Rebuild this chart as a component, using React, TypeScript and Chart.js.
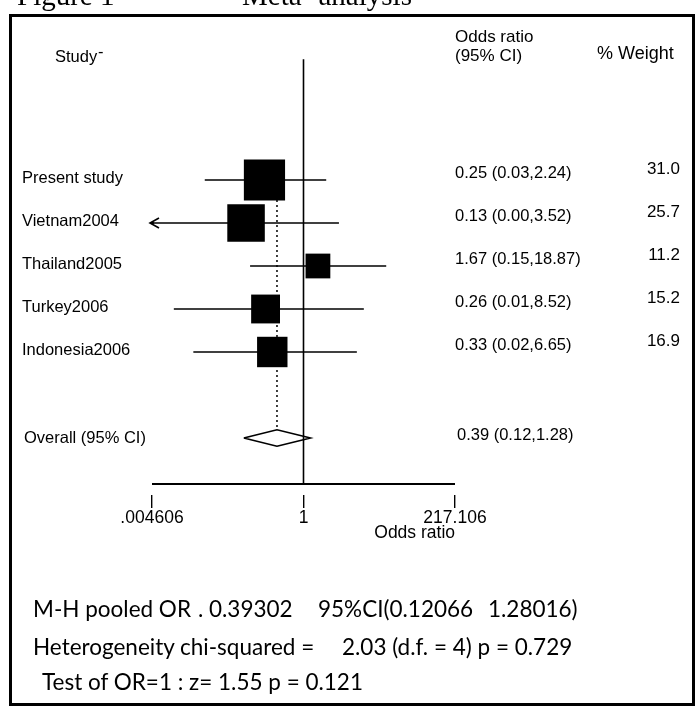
import React, { useEffect, useRef } from "react";
import { Chart, registerables } from "chart.js";

Chart.register(...registerables);

// ---- data ----
const studies = ["Present study", "Vietnam2004", "Thailand2005", "Turkey2006", "Indonesia2006"];
const oddsRatios = [0.25, 0.13, 1.67, 0.26, 0.33];
const ciLower = [0.03, 0.0, 0.15, 0.01, 0.02];
const ciUpper = [2.24, 3.52, 18.87, 8.52, 6.65];
const weights = [31.0, 25.7, 11.2, 15.2, 16.9];
const overallLabel = "Overall (95% CI)";
const pooledOR = 0.39;
const pooledLower = 0.12;
const pooledUpper = 1.28;
const xTickValues = [0.004606, 1, 217.106];
const xTickLabels = [".004606", "1", "217.106"];
const statsText = [
  ["M-H pooled OR", ".", "0.39302", "95%CI(0.12066", "1.28016)"],
  ["Heterogeneity chi-squared =", "2.03 (d.f. = 4) p = 0.729"],
  ["Test of OR=1 : z= 1.55 p = 0.121"],
];

// ---- layout (styles / positions) ----
const W = 696;
const H = 709;
const SANS = '"Liberation Sans", Arial, sans-serif';
const statsX = [
  [33, 198, 209, 318, 488],
  [33, 342],
  [42],
];
const statsY = [609, 647, 682];

const fmt2 = (v: number) => v.toFixed(2);

export default function App() {
  const ref = useRef<HTMLCanvasElement>(null);

  useEffect(() => {
    const canvas = ref.current;
    if (!canvas) return;
    const nRows = studies.length;
    const overallRow = nRows + 1;
    const axisRow = 7.07;
    const topRow = -2.81;
    const diamondHalf = 0.19;
    const xMin = xTickValues[0];
    const xMax = xTickValues[xTickValues.length - 1];

    const lineBase = {
      showLine: true,
      borderColor: "#000",
      borderWidth: 1.6,
      pointRadius: 0,
      pointHoverRadius: 0,
      fill: false,
      tension: 0,
    };

    const ciDatasets = studies.map((s, i) => ({
      ...lineBase,
      label: s,
      data: [
        { x: Math.max(ciLower[i], xMin), y: i },
        { x: ciUpper[i], y: i },
      ],
      order: 3,
    }));

    const textPlugin = {
      id: "forestText",
      afterDatasetsDraw(chart: any) {
        const ctx = chart.ctx;
        const xs = chart.scales.x;
        const ys = chart.scales.y;
        ctx.save();
        ctx.strokeStyle = "#000";
        ctx.lineWidth = 1.6;
        studies.forEach((_, i) => {
          if (ciLower[i] < xMin) {
            const px = xs.getPixelForValue(xMin);
            const py = ys.getPixelForValue(i);
            ctx.beginPath();
            ctx.moveTo(px + 7, py - 5);
            ctx.lineTo(px - 2, py);
            ctx.lineTo(px + 7, py + 5);
            ctx.moveTo(px - 2, py);
            ctx.lineTo(px + 2, py);
            ctx.stroke();
          }
        });
        ctx.restore();
      },
      afterDraw(chart: any) {
        const ctx = chart.ctx;
        const ys = chart.scales.y;
        const right = chart.chartArea.right;
        ctx.save();
        ctx.fillStyle = "#000";
        ctx.textBaseline = "middle";
        // headers
        ctx.font = `17px ${SANS}`;
        ctx.textAlign = "left";
        ctx.fillText("Odds ratio", right, 37);
        ctx.fillText("(95% CI)", right, 56);
        ctx.font = `18px ${SANS}`;
        ctx.fillText("% Weight", 597, 54);
        ctx.font = `16.5px ${SANS}`;
        ctx.fillText("Study", 55, 57);
        ctx.fillText("-", 98, 52);
        // rows
        studies.forEach((s, i) => {
          const py = ys.getPixelForValue(i);
          ctx.font = `16.5px ${SANS}`;
          ctx.textAlign = "left";
          ctx.fillText(s, 22, py - 2);
          ctx.fillText(
            `${fmt2(oddsRatios[i])} (${fmt2(ciLower[i])},${fmt2(ciUpper[i])})`,
            right,
            py - 7
          );
          ctx.font = `17px ${SANS}`;
          ctx.textAlign = "right";
          ctx.fillText(weights[i].toFixed(1), 680, py - 11);
        });
        const po = ys.getPixelForValue(overallRow);
        ctx.font = `16.5px ${SANS}`;
        ctx.textAlign = "left";
        ctx.fillText(overallLabel, 24, po);
        ctx.fillText(`${fmt2(pooledOR)} (${fmt2(pooledLower)},${fmt2(pooledUpper)})`, right + 2, po - 3);
        ctx.restore();
      },
    };

    const chart = new Chart(canvas, {
      type: "scatter",
      data: {
        datasets: [
          {
            ...lineBase,
            label: "no effect",
            data: [
              { x: 1, y: topRow },
              { x: 1, y: axisRow },
            ],
            order: 6,
          },
          {
            ...lineBase,
            label: "axis",
            borderWidth: 1.8,
            data: [
              { x: xMin, y: axisRow },
              { x: xMax, y: axisRow },
            ],
            order: 6,
          },
          {
            ...lineBase,
            label: "pooled",
            borderWidth: 1.5,
            borderDash: [2, 3],
            data: [
              { x: pooledOR, y: 0 },
              { x: pooledOR, y: overallRow - diamondHalf },
            ],
            order: 5,
          },
          ...ciDatasets,
          {
            label: "boxes",
            data: studies.map((_, i) => ({ x: oddsRatios[i], y: i })),
            showLine: false,
            pointStyle: "rect",
            pointRadius: weights.map((w) => (7.4 * Math.sqrt(w)) / Math.SQRT2),
            pointHoverRadius: weights.map((w) => (7.4 * Math.sqrt(w)) / Math.SQRT2),
            backgroundColor: "#000",
            borderWidth: 0,
            order: 1,
          },
          {
            ...lineBase,
            label: "diamond",
            data: [
              { x: pooledLower, y: overallRow },
              { x: pooledOR, y: overallRow - diamondHalf },
              { x: pooledUpper, y: overallRow },
              { x: pooledOR, y: overallRow + diamondHalf },
              { x: pooledLower, y: overallRow },
            ],
            order: 1,
          },
        ] as any,
      },
      options: {
        animation: false,
        responsive: false,
        events: [],
        layout: { padding: { left: 152, right: W - 455, top: 56, bottom: H - 495 - 60 } },
        plugins: {
          legend: { display: false },
          tooltip: { enabled: false },
        },
        scales: {
          x: {
            type: "logarithmic",
            min: xMin,
            max: xMax,
            position: "bottom",
            afterBuildTicks: (scale: any) => {
              scale.ticks = xTickValues.map((v) => ({ value: v }));
            },
            afterFit: (scale: any) => {
              scale.height = 60;
            },
            border: { display: false },
            grid: {
              drawOnChartArea: false,
              drawTicks: true,
              tickLength: 13,
              color: "#000",
              lineWidth: 1.4,
            },
            ticks: {
              color: "#000",
              font: { family: SANS, size: 17.5 },
              padding: 0,
              autoSkip: false,
              maxRotation: 0,
              callback: (_v: any, i: number) => xTickLabels[i],
            },
            title: {
              display: true,
              text: "Odds ratio",
              align: "end",
              color: "#000",
              font: { family: SANS, size: 17.5 },
              padding: { top: 0, bottom: 11 },
            },
          },
          y: {
            type: "linear",
            reverse: true,
            min: -2.884,
            max: 7.326,
            display: false,
          },
        },
      } as any,
      plugins: [textPlugin],
    });
    return () => chart.destroy();
  }, []);

  return (
    <div
      style={{
        position: "absolute",
        left: 0,
        top: 0,
        width: W,
        height: H,
        overflow: "hidden",
        background: "#fff",
      }}
    >
      <canvas ref={ref} width={W} height={H} style={{ position: "absolute", left: 0, top: 0, width: W, height: H }} />
      <div
        style={{
          position: "absolute",
          left: 17,
          top: -19,
          font: '29px "Liberation Serif", "Times New Roman", serif',
          lineHeight: "29px",
          whiteSpace: "pre",
        }}
      >
        Figure 1
      </div>
      <div
        style={{
          position: "absolute",
          left: 242,
          top: -19,
          font: '29px "Liberation Serif", "Times New Roman", serif',
          lineHeight: "29px",
          whiteSpace: "pre",
        }}
      >
        Meta- analysis
      </div>
      <div
        style={{
          position: "absolute",
          left: 9,
          top: 14,
          width: 686,
          height: 692,
          boxSizing: "border-box",
          border: "3px solid #000",
        }}
      />
      {statsText.map((line, li) =>
        line.map((seg, si) => (
          <div
            key={`${li}-${si}`}
            style={{
              position: "absolute",
              left: statsX[li][si],
              top: statsY[li] - 14,
              height: 28,
              lineHeight: "28px",
              font: '22.5px Lato, "Liberation Sans", sans-serif',
              whiteSpace: "pre",
              color: "#000",
            }}
          >
            {seg}
          </div>
        ))
      )}
    </div>
  );
}
